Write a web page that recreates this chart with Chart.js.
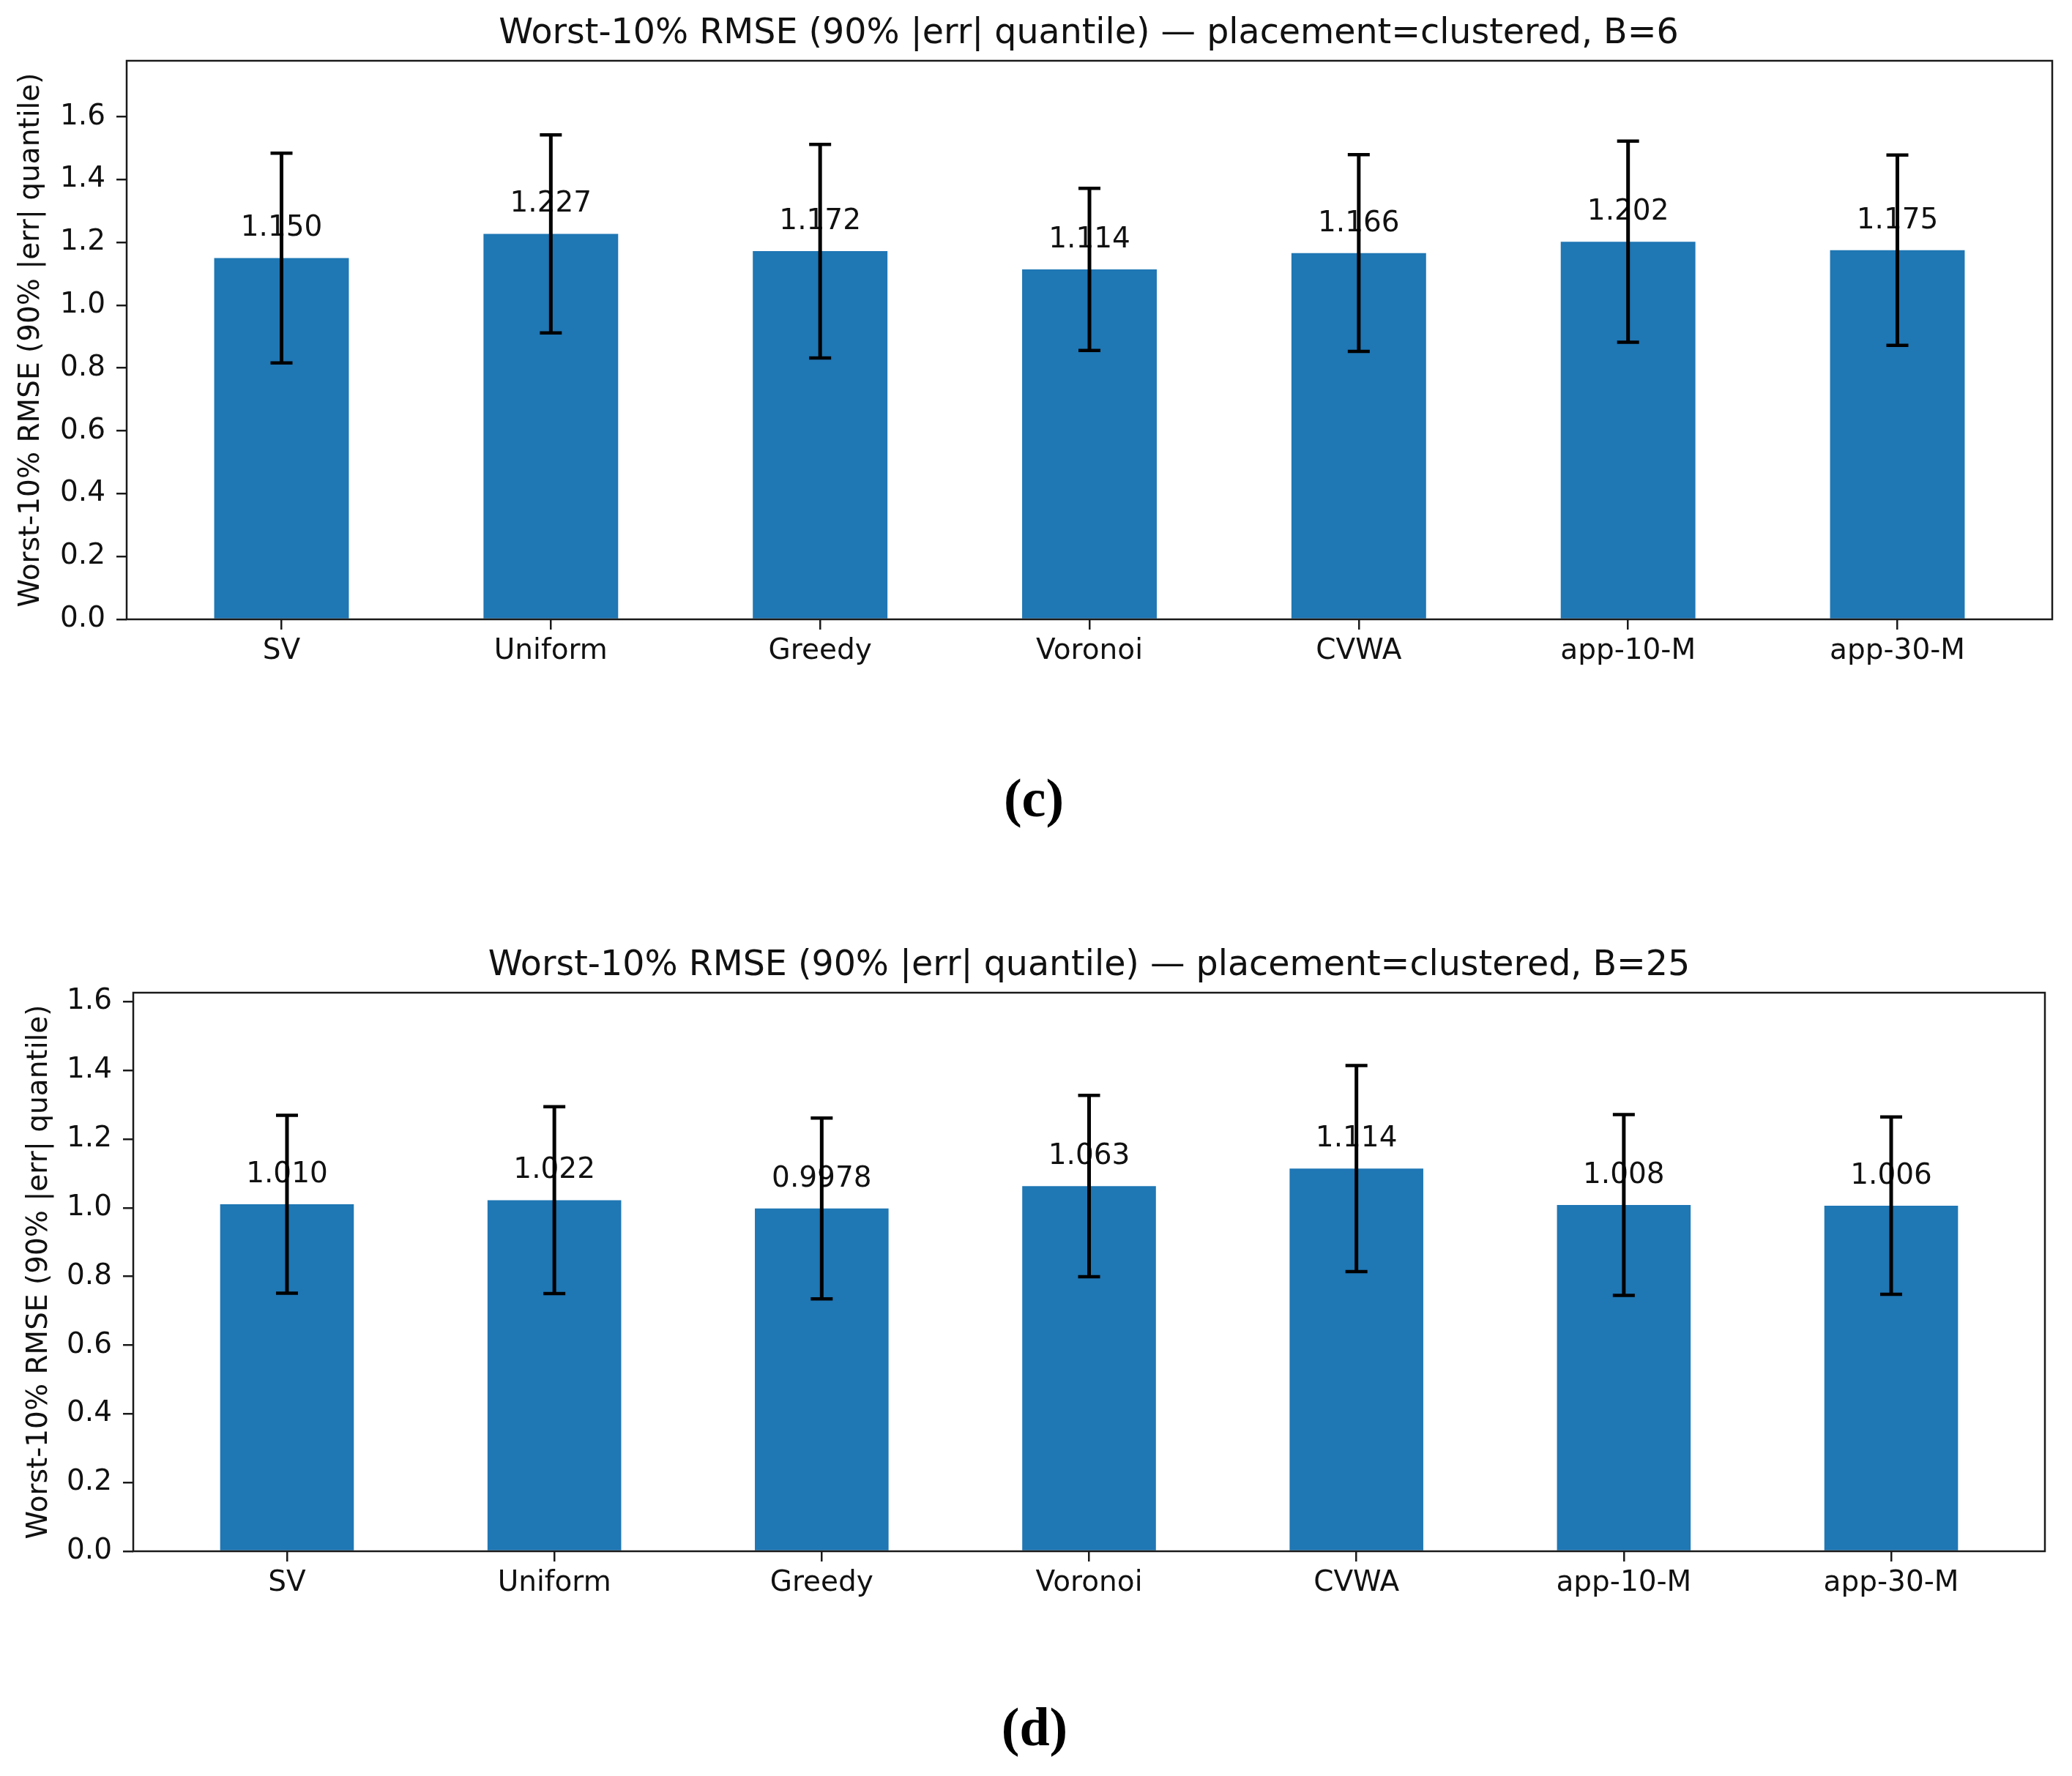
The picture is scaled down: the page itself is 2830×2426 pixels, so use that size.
<!DOCTYPE html>
<html>
<head>
<meta charset="utf-8">
<title>Worst-10% RMSE</title>
<script src="https://cdn.jsdelivr.net/npm/chart.js@4.4.1/dist/chart.umd.min.js"></script>
<style>
  html,
  body {
    margin: 0;
    padding: 0;
    background: #fff;
    width: 2830px;
    height: 2426px;
    overflow: hidden;
  }
  .c-panel {
    position: absolute;
    left: 0;
  }
  .c-panel--c {
    top: 0;
  }
  .c-panel--d {
    top: 1260px;
  }
  .c-tag {
    position: absolute;
    width: 200px;
    margin-left: -100px;
    text-align: center;
    font: bold 74px 'Liberation Serif', serif;
    line-height: 74px;
    color: #000;
  }
</style>
</head>
<body>
<div class="c-panel c-panel--c"><canvas class="js-chart-c" width="2974" height="1000"></canvas></div>
<div class="c-tag" style="left: 1412px; top: 1053px">(c)</div>
<div class="c-panel c-panel--d"><canvas class="js-chart-d" width="2975" height="1000"></canvas></div>
<div class="c-tag" style="left: 1413px; top: 2322px">(d)</div>
<script>
const categories = ['SV', 'Uniform', 'Greedy', 'Voronoi', 'CVWA', 'app-10-M', 'app-30-M'];
// B=6
const meanB6 = [1.150, 1.227, 1.172, 1.114, 1.166, 1.202, 1.175];
const errB6 = [0.334, 0.315, 0.340, 0.258, 0.313, 0.320, 0.303];
// B=25
const meanB25 = [1.010, 1.022, 0.9978, 1.063, 1.114, 1.008, 1.006];
const errB25 = [0.259, 0.272, 0.263, 0.264, 0.300, 0.263, 0.258];
const yTicks = [0, 0.2, 0.4, 0.6, 0.8, 1.0, 1.2, 1.4, 1.6];

const barColor = '#1f77b4';
const inkColor = '#111';
const fontFamily = "'DejaVu Sans', sans-serif";

// error bars, value labels and the box round the plot
const errorBarPlugin = {
  id: 'errorBars',
  afterDatasetsDraw(chart) {
    const ctx = chart.ctx;
    const x = chart.scales.x;
    const y = chart.scales.y;
    const ds = chart.data.datasets[0];
    const area = chart.chartArea;
    ctx.save();

    ctx.font = '39px ' + fontFamily;
    ctx.fillStyle = inkColor;
    ctx.textAlign = 'center';
    ctx.textBaseline = 'alphabetic';
    ds.data.forEach(function (p) {
      ctx.fillText(p.y.toPrecision(4), x.getPixelForValue(p.x), y.getPixelForValue(p.y) - 30);
    });

    ctx.strokeStyle = '#000';
    ds.data.forEach(function (p, i) {
      const px = x.getPixelForValue(p.x);
      const top = y.getPixelForValue(p.y + ds.errors[i]);
      const bottom = y.getPixelForValue(p.y - ds.errors[i]);
      ctx.lineWidth = 5;
      ctx.beginPath();
      ctx.moveTo(px, top);
      ctx.lineTo(px, bottom);
      ctx.stroke();
      ctx.lineWidth = 4.5;
      ctx.beginPath();
      ctx.moveTo(px - 15, top);
      ctx.lineTo(px + 15, top);
      ctx.moveTo(px - 15, bottom);
      ctx.lineTo(px + 15, bottom);
      ctx.stroke();
    });

    ctx.lineWidth = 2.5;
    ctx.strokeStyle = '#1a1a1a';
    ctx.strokeRect(area.left, area.top, area.right - area.left, area.bottom - area.top);
    ctx.restore();
  },
};

const createChart = function (canvas, settings) {
  return new Chart(canvas, {
    type: 'bar',
    data: {
      datasets: [
        {
          data: categories.map(function (c, i) {
            return { x: i, y: settings.means[i] };
          }),
          errors: settings.errors,
          backgroundColor: barColor,
          borderWidth: 0,
          barPercentage: 0.5,
          categoryPercentage: 1,
        },
      ],
    },
    options: {
      responsive: false,
      animation: false,
      events: [],
      layout: { padding: 0 },
      plugins: {
        legend: { display: false },
        tooltip: { enabled: false },
        title: {
          display: true,
          text: settings.title,
          color: inkColor,
          font: { family: fontFamily, size: 47.5, weight: 'normal', lineHeight: 1.2 },
          padding: { top: settings.titleTop, bottom: settings.titleBottom },
        },
      },
      scales: {
        x: {
          type: 'linear',
          offset: false,
          min: -0.575,
          max: categories.length - 1 + 0.575,
          afterBuildTicks: function (scale) {
            scale.ticks = categories.map(function (c, i) {
              return { value: i };
            });
          },
          afterFit: function (scale) {
            scale.height = settings.xAxisHeight;
          },
          grid: {
            display: true,
            offset: false,
            drawOnChartArea: false,
            drawTicks: true,
            tickLength: 14,
            lineWidth: 2.5,
            color: '#1a1a1a',
          },
          border: { display: false },
          ticks: {
            autoSkip: false,
            maxRotation: 0,
            padding: 6,
            color: inkColor,
            font: { family: fontFamily, size: 39 },
            callback: function (value) {
              return categories[value];
            },
          },
        },
        y: {
          type: 'linear',
          position: 'left',
          min: 0,
          max: settings.yMax,
          afterBuildTicks: function (scale) {
            scale.ticks = yTicks.map(function (v) {
              return { value: v };
            });
          },
          afterFit: function (scale) {
            scale.width = settings.yAxisWidth;
          },
          grid: {
            display: true,
            drawOnChartArea: false,
            drawTicks: true,
            tickLength: 14,
            lineWidth: 2.5,
            color: '#1a1a1a',
          },
          border: { display: false },
          ticks: {
            padding: 15,
            color: inkColor,
            font: { family: fontFamily, size: 39 },
            callback: function (value) {
              return value.toFixed(1);
            },
          },
          title: {
            display: true,
            text: 'Worst-10% RMSE (90% |err| quantile)',
            color: inkColor,
            font: { family: fontFamily, size: 39, lineHeight: 1.2 },
            padding: { top: settings.yTitleTop, bottom: 0 },
          },
        },
        // empty strip on the right so the title sits over the plot
        spacer: {
          type: 'linear',
          position: 'right',
          display: true,
          grid: { display: false },
          border: { display: false },
          ticks: { display: false },
          afterFit: function (scale) {
            scale.width = settings.rightSpace;
          },
        },
      },
    },
    plugins: [errorBarPlugin],
  });
};

const init = function () {
  createChart(document.querySelector('.js-chart-c'), {
    title: 'Worst-10% RMSE (90% |err| quantile) \u2014 placement=clustered, B=6',
    means: meanB6,
    errors: errB6,
    yMax: 1.778,
    titleTop: 18,
    titleBottom: 8,
    xAxisHeight: 154,
    yAxisWidth: 173,
    yTitleTop: 19.6,
    rightSpace: 171,
  });
  createChart(document.querySelector('.js-chart-d'), {
    title: 'Worst-10% RMSE (90% |err| quantile) \u2014 placement=clustered, B=25',
    means: meanB25,
    errors: errB25,
    yMax: 1.626,
    titleTop: 31,
    titleBottom: 8,
    xAxisHeight: 141,
    yAxisWidth: 182,
    yTitleTop: 30.6,
    rightSpace: 182,
  });
};
document.addEventListener('DOMContentLoaded', init);
</script>
</body>
</html>
